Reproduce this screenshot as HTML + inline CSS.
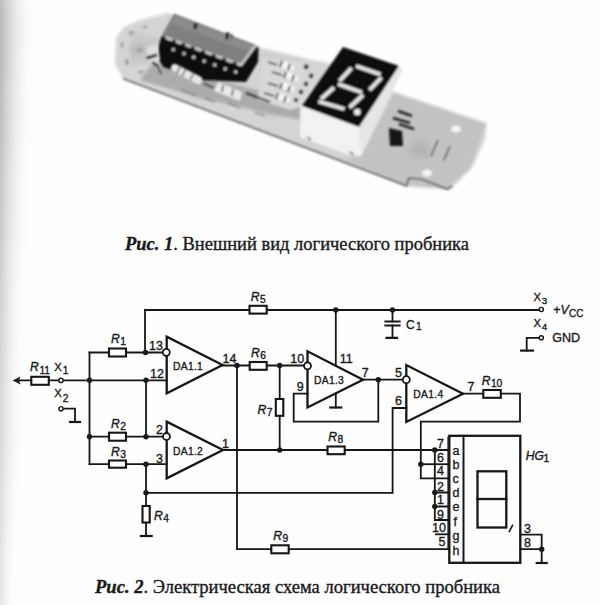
<!DOCTYPE html>
<html><head><meta charset="utf-8">
<style>
html,body{margin:0;padding:0;background:#fefefe;}
body{width:600px;height:605px;overflow:hidden;position:relative;}
svg{position:absolute;left:0;top:0;display:block;}
.cap{font-family:"Liberation Serif",serif;fill:#1a1a1a;stroke:#1a1a1a;stroke-width:0.35px;}
.lb{font-family:"Liberation Sans",sans-serif;fill:#1a1a1a;}
</style></head>
<body>
<svg width="600" height="605" viewBox="0 0 600 605">
<defs>
  <linearGradient id="sg" x1="0" x2="1" y1="0" y2="0"><stop offset="0" stop-color="#000" stop-opacity="1.0000"/><stop offset="0.125" stop-color="#000" stop-opacity="0.7656"/><stop offset="0.25" stop-color="#000" stop-opacity="0.5625"/><stop offset="0.375" stop-color="#000" stop-opacity="0.3906"/><stop offset="0.5" stop-color="#000" stop-opacity="0.2500"/><stop offset="0.625" stop-color="#000" stop-opacity="0.1406"/><stop offset="0.75" stop-color="#000" stop-opacity="0.0625"/><stop offset="0.875" stop-color="#000" stop-opacity="0.0156"/><stop offset="1" stop-color="#000" stop-opacity="0.0000"/></linearGradient>
  <filter id="vb" x="0" y="-10%" width="100%" height="120%"><feGaussianBlur stdDeviation="0 25"/></filter>
</defs>
<g filter="url(#vb)">
  <rect x="0" y="-30" width="36" height="100" fill="url(#sg)" opacity="0.282"/>
  <rect x="0" y="70" width="34" height="80" fill="url(#sg)" opacity="0.259"/>
  <rect x="0" y="150" width="31" height="100" fill="url(#sg)" opacity="0.220"/>
  <rect x="0" y="250" width="27" height="100" fill="url(#sg)" opacity="0.180"/>
  <rect x="0" y="350" width="25" height="120" fill="url(#sg)" opacity="0.157"/>
  <rect x="0" y="470" width="21" height="70" fill="url(#sg)" opacity="0.129"/>
  <rect x="0" y="540" width="17" height="95" fill="url(#sg)" opacity="0.106"/>
</g>


<!-- PHOTO -->
<g id="photo">
<defs>
  <filter id="bl1" x="-10%" y="-10%" width="120%" height="120%"><feGaussianBlur stdDeviation="0.8"/></filter>
  <filter id="bl2" x="-20%" y="-20%" width="140%" height="140%"><feGaussianBlur stdDeviation="1.4"/></filter>
  <filter id="bl3" x="-30%" y="-30%" width="160%" height="160%"><feGaussianBlur stdDeviation="3.5"/></filter>
</defs>
<g id="ph">
  <!-- board -->
  <g filter="url(#bl2)">
    <path d="M116,38 L124,27 L140,20 L168,13 L258,47 L300,57 L342,66 L392,91 L487,123 L485,140 L472,168 L450,190 L407,186.5 L180,100 L123,78 L115,64 Z" fill="#d4d4d4"/>
    <path d="M152,64 L250,88 L300,100 L300,120 L200,98 L140,80 Z" fill="#acacac"/>
    <path d="M130,30 L160,38 L158,62 L130,66 Z" fill="#cacaca"/>
    <path d="M258,50 L300,58 L300,106 L262,92 Z" fill="#d0d0d0"/>
    <path d="M345,160 L362,152 L394,93 L486,124 L470,168 L447,188 L405,185 Z" fill="#c2c2c2"/>
  </g>
  <g filter="url(#bl1)" fill="#8a8a8a" opacity="0.7">
    <ellipse cx="131" cy="33" rx="2.5" ry="2"/>
    <ellipse cx="140" cy="50" rx="3" ry="2"/>
    <ellipse cx="127" cy="62" rx="2" ry="3"/>
    <ellipse cx="141" cy="72" rx="3" ry="1.5"/>
    <ellipse cx="145" cy="27" rx="2.5" ry="1.5"/>
    <ellipse cx="122" cy="45" rx="1.5" ry="3"/>
    <path d="M182,90 l14,5 M205,98 l10,4 M228,103 l12,5 M255,112 l10,4" stroke="#777" stroke-width="1.5"/>
    <path d="M262,88 l8,-3 M266,98 l6,-2" stroke="#555" stroke-width="1.8"/>
  </g>
  <g filter="url(#bl3)" fill="#a8a8a8" opacity="0.6">
    <ellipse cx="138" cy="50" rx="8" ry="6"/>
    <ellipse cx="205" cy="92" rx="14" ry="5"/>
    <ellipse cx="270" cy="110" rx="14" ry="5"/>
    <ellipse cx="420" cy="150" rx="10" ry="8"/>
  </g>
  <!-- board front edge line -->
  <path d="M123,78.5 L180,100 L406,185.5" stroke="#5e5e5e" stroke-width="1.7" fill="none" filter="url(#bl1)"/>
  <path d="M406,187 L409,178 L421,179 L447,189 L452,186" stroke="#666" stroke-width="1.6" fill="none" filter="url(#bl1)"/>
  <!-- IC -->
  <g filter="url(#bl1)">
    <path d="M161.5,36 L241,65 L256,45 L258.5,48 L258,62 L246,82 L200,80 L163,67 L156,55 Z" fill="#0e0e0e"/>
    <path d="M174,13.5 L256,45 L241,65 L161.5,36 Z" fill="#808080"/>
    <path d="M176,16 L254,46 L250,52 L170,23 Z" fill="#8c8c8c"/>
    <path d="M161.5,36 L241,65 L256,45" stroke="#d0d0d0" stroke-width="2.4" fill="none" stroke-linejoin="round"/>
    <g fill="#161616"><circle cx="163.3" cy="37.9" r="2.3"/><circle cx="173.8" cy="41.7" r="2.3"/><circle cx="183.2" cy="45.1" r="2.3"/><circle cx="192.5" cy="48.5" r="2.3"/><circle cx="203.0" cy="52.3" r="2.3"/><circle cx="213.5" cy="56.2" r="2.3"/><circle cx="224.0" cy="60.0" r="2.3"/><circle cx="234.5" cy="63.8" r="2.3"/></g>
    <g fill="#d8d8d8">
      <circle cx="173.3" cy="49.5" r="1.5"/><circle cx="184" cy="53.5" r="1.5"/><circle cx="193.7" cy="57.2" r="1.6"/>
      <circle cx="204.2" cy="61.1" r="1.6"/><circle cx="214.7" cy="64.9" r="1.6"/><circle cx="225.2" cy="68.8" r="1.6"/><circle cx="235.7" cy="71.9" r="1.6"/>
    </g>
    <path d="M194,23 l4,0.5 l-1.5,6 l-3.5,-0.5 z" fill="#2a2a2a"/>
    <path d="M226,32 l4,1 l-2,7 l-3,-1 z M231,34 l2,0.5 l-1.5,6 z" fill="#2a2a2a"/>
  </g>
  <!-- parts near IC -->
  <g filter="url(#bl1)">
    <g transform="translate(186.5,74) rotate(27)">
      <rect x="-17" y="-4" width="34" height="8" rx="3.5" fill="#e6e6e6"/>
      <path d="M-9,-4 v8 M-3,-4 v8 M6,-4 v8" stroke="#7a7a7a" stroke-width="1.8"/>
    </g>
    <path d="M203,83 L214,88" stroke="#555" stroke-width="2"/>
    <path d="M146,47 L158,44 L160,60 L150,64 Z" fill="#dedede"/>
    <path d="M147,58 L157,55" stroke="#1e1e1e" stroke-width="3"/>
    <path d="M152,62 L158,66" stroke="#333" stroke-width="2.5"/>
    <path d="M157,64 L161,74" stroke="#555" stroke-width="2"/>
  </g>
  <!-- resistor cluster between IC and display -->
  <g filter="url(#bl1)">
    <path d="M262,58 L300,62 L314,76 L312,104 L290,110 L258,100 Z" fill="#d8d8d8"/>
    <g fill="#f4f4f4">
      <ellipse cx="287" cy="66" rx="8" ry="3.6" transform="rotate(22 287 66)"/>
      <ellipse cx="291" cy="76.5" rx="8" ry="3.6" transform="rotate(22 291 76.5)"/>
      <ellipse cx="287" cy="87" rx="8" ry="3.6" transform="rotate(22 287 87)"/>
      <ellipse cx="283" cy="97.5" rx="8" ry="3.6" transform="rotate(22 283 97.5)"/>
    </g>
    <path d="M282,61 l-2,6 M290,64 l-2,6 M286,72 l-2,6 M294,75 l-2,6 M282,83 l-2,6 M290,86 l-2,6 M278,93 l-2,6 M286,96 l-2,6" stroke="#1e1e1e" stroke-width="1.8"/>
    <path d="M268,62 l9,3 M272,72 l10,3 M268,83 l10,3 M264,93 l10,3" stroke="#333" stroke-width="1.6"/>
    <circle cx="306" cy="67" r="2.4" fill="#3a3a3a"/><circle cx="311" cy="76" r="2.4" fill="#3a3a3a"/>
    <circle cx="306" cy="84" r="2.4" fill="#3a3a3a"/><circle cx="301" cy="92" r="2.4" fill="#3a3a3a"/><circle cx="296" cy="100" r="2.2" fill="#3a3a3a"/>
    <path d="M218,82 L242,92 L240,101 L214,91 Z" fill="#e8e8e8"/>
    <path d="M223,85 l-1,7 M233,89 l-1,7" stroke="#444" stroke-width="1.6"/>
    <path d="M246,93 L270,102" stroke="#333" stroke-width="2.2"/>
  </g>
  <!-- 7-seg display -->
  <g filter="url(#bl1)">
    <path d="M301,106 L359,127 L399,66 L402.5,70 L361,156 L352,156 L300,137 Z" fill="#f2f2f2"/>
    <path d="M359,127 L399,66 L402.5,70 L361,156 Z" fill="#e6e6e6"/>
    <path d="M343,47 L399,66 L359,127 L302,106 Z" fill="#0e0e0e"/>
    <g stroke="#e8e8e8" stroke-width="3.9" stroke-linecap="butt" fill="none">
      <path d="M356,66 L380.5,74.5"/>
      <path d="M351.5,68 L339.5,81"/>
      <path d="M381.5,77.5 L369.5,90"/>
      <path d="M338,84 L362,92.5"/>
      <path d="M334,87.5 L321,99"/>
      <path d="M363,95 L349.5,107.5"/>
      <path d="M318.5,101.5 L344.5,109"/>
    </g>
    <circle cx="357.3" cy="112" r="3.3" fill="#ececec"/>
    <path d="M306,136 l5,2 l-1,3 z M348,151 l6,2 l-1,3z" fill="#777"/>
  </g>
  <!-- right end parts -->
  <g filter="url(#bl1)">
    <path d="M389,128 L402,131 L403,146 L390,146 Z" fill="#161616"/>
    <path d="M398,111 L412,116 M393,118 L410,123 M399,124 L414,129" stroke="#222" stroke-width="2.5"/>
    <path d="M438,140 L431,156 M450,146 L444,160" stroke="#666" stroke-width="1.5"/>
    <ellipse cx="456" cy="129" rx="5" ry="3.5" fill="#f6f6f6"/>
    <ellipse cx="427" cy="173" rx="5" ry="3.5" fill="#f4f4f4"/>
  </g>
</g>
</g>

<!-- Captions -->
<text class="cap" x="125" y="249.6" font-size="17.8" textLength="344" lengthAdjust="spacingAndGlyphs"><tspan font-weight="bold" font-style="italic">Рис. 1</tspan>. Внешний вид логического пробника</text>
<text class="cap" x="95" y="593" font-size="17.8" textLength="405" lengthAdjust="spacingAndGlyphs"><tspan font-weight="bold" font-style="italic">Рис. 2</tspan>. Электрическая схема логического пробника</text>

<!-- CIRCUIT -->
<g id="circ" fill="none" stroke="#161616" stroke-width="1.8" stroke-linecap="square">
<!-- wires -->
<path d="M145,310 H249.5 M266.7,310 H539"/>
<path d="M145,310 V352.5"/>
<path d="M89.5,352.5 H109 M126,352.5 H162.8"/>
<path d="M63.5,380.3 H166.7"/>
<path d="M89.5,352.5 V464.2"/>
<path d="M146,380.3 V436.7"/>
<path d="M89.5,436.7 H109 M126,436.7 H163"/>
<path d="M89.5,464.2 H109 M126,464.2 H166.7"/>
<path d="M146,464.2 V506 M146,522.5 V536"/>
<path d="M141,536 H151.7" stroke-width="2.2"/>
<path d="M146,492.8 H392.6 V408 H406.3"/>
<path d="M222.5,365.5 H249.7 M266.7,365.5 H303.8"/>
<path d="M237,365.5 V549.2 H271.3 M288.7,549.2 H448"/>
<path d="M223,450 H327.5 M344.7,450 H448"/>
<path d="M279.7,365.5 V399 M279.7,415.8 V450"/>
<path d="M307.5,393.7 H293.7 V421.7 H378.3 V379.7"/>
<path d="M363,379.7 H402.6"/>
<path d="M335.8,310 V365.8"/>
<path d="M335.8,393.2 V407.5"/>
<path d="M330.3,407.5 H341.3" stroke-width="2.2"/>
<path d="M392.5,310 V321.5 M392.5,325.5 V337.8"/>
<path d="M385.5,321.5 H399.5 M385.5,325.5 H399.5 M386.5,337.8 H397" stroke-width="2.2"/>
<path d="M539,337.8 H526.7 V350.6"/>
<path d="M521.2,350.6 H533" stroke-width="2.2"/>
<path d="M463,393.7 H483.3 M500.8,393.7 H520 V421.7 H420.8 V478.3 H448"/>
<path d="M420.8,464.2 H448"/>
<path d="M434.8,450 V520 M434.8,492.5 H448 M434.8,506.5 H448 M434.8,520 H448"/>
<path d="M436,534.3 H448"/>
<path d="M448,437 V549" stroke-width="1.2"/>
<path d="M520.3,534.7 H541.7 V563 M520.3,549.2 H541.7"/>
<path d="M536.7,563 H546.7" stroke-width="2.2"/>
<path d="M63.3,408.7 H75 V422"/>
<path d="M70,422 H80" stroke-width="2.2"/>
<path d="M19.6,380.4 H31.3 M48.8,380.4 H58.7"/>
<!-- HG1 body -->
<rect x="449.3" y="435.8" width="71" height="127" stroke-width="2.3"/>
<path d="M463.5,435.8 V562.8" stroke-width="2"/>
<rect x="477.5" y="471.3" width="28.8" height="56.2" stroke-width="2.3"/>
<path d="M477.5,499 H506.3" stroke-width="2.3"/>
<path d="M509.2,531.7 L512.5,525.3" stroke-width="1.6" stroke-linecap="round"/>
<!-- resistors -->
<g stroke-width="2.1" fill="#fff">
<rect x="109" y="348.5" width="17" height="8"/>
<rect x="109" y="432.7" width="17" height="8"/>
<rect x="109" y="460.5" width="17" height="7.2"/>
<rect x="142.5" y="506" width="7.2" height="16.5"/>
<rect x="249.5" y="305.8" width="17.2" height="7.8"/>
<rect x="249.7" y="362" width="17" height="7.8"/>
<rect x="275.8" y="399" width="7.5" height="16.8"/>
<rect x="327.5" y="446.5" width="17.2" height="7.7"/>
<rect x="271.3" y="545.3" width="17.4" height="8"/>
<rect x="483.3" y="390" width="17.5" height="7.8"/>
<rect x="31.3" y="376.8" width="17.5" height="8"/>
</g>
<!-- opamps -->
<g stroke-width="2.3" stroke-linejoin="miter">
<path d="M166.7,336.7 L166.7,393.3 L222.5,365 Z"/>
<path d="M166.7,421.7 L166.7,478.3 L223,450 Z"/>
<path d="M307.5,351.3 L307.5,407.5 L363,379.7 Z"/>
<path d="M406.3,365 L406.3,422 L463,393.7 Z"/>
</g>
<!-- bubbles & terminals -->
<g stroke-width="1.8" fill="#fff">
<circle cx="166.3" cy="352.3" r="3.5"/>
<circle cx="166.5" cy="436.5" r="3.5"/>
<circle cx="307.5" cy="365.8" r="3.5"/>
<circle cx="406.3" cy="379.7" r="3.5"/>
</g>
<g stroke-width="1.4" fill="#fff">
<circle cx="61" cy="380.4" r="2.1"/>
<circle cx="61" cy="408.7" r="2.1"/>
<circle cx="541.3" cy="309.5" r="2.1"/>
<circle cx="541.3" cy="337.8" r="2.1"/>
</g>
<!-- dots -->
<g fill="#1a1a1a" stroke="none">
<circle cx="145.5" cy="352.5" r="2.7"/>
<circle cx="89.5" cy="380.3" r="2.7"/>
<circle cx="146" cy="380.3" r="2.7"/>
<circle cx="89.5" cy="436.7" r="2.7"/>
<circle cx="146" cy="436.7" r="2.7"/>
<circle cx="146" cy="464.2" r="2.7"/>
<circle cx="146" cy="492.8" r="2.7"/>
<circle cx="237" cy="365.5" r="2.7"/>
<circle cx="279.7" cy="365.5" r="2.7"/>
<circle cx="279.7" cy="450" r="2.7"/>
<circle cx="335.8" cy="310" r="2.7"/>
<circle cx="392.5" cy="310" r="2.7"/>
<circle cx="378.3" cy="379.7" r="2.7"/>
<circle cx="420.8" cy="464.2" r="2.7"/>
<circle cx="434.8" cy="450" r="2.7"/>
<circle cx="434.8" cy="492.5" r="2.7"/>
<circle cx="434.8" cy="506.5" r="2.7"/>
<circle cx="541.7" cy="549.2" r="2.7"/>
<path d="M12.6,380.4 L20.5,376.4 L19,380.4 L20.5,384.4 Z"/>
</g>
</g>
<g class="lb" stroke="#1a1a1a" stroke-width="0.35">
<!-- R labels: italic R + subscript -->
<g font-size="12.2" font-style="italic">
<text x="30" y="371.3">R</text>
<text x="111" y="343">R</text>
<text x="111" y="427.5">R</text>
<text x="111" y="455.5">R</text>
<text x="250.8" y="300.5">R</text>
<text x="251" y="356.5">R</text>
<text x="328.3" y="441">R</text>
<text x="273.3" y="540">R</text>
<text x="481.7" y="384.5">R</text>
<text x="257.5" y="414">R</text>
<text x="154" y="520">R</text>
<text x="525.8" y="459.8">HG</text>
</g>
<g font-size="10.3">
<text x="39.4" y="373.7">11</text>
<text x="120.2" y="345.4">1</text>
<text x="120.2" y="429.9">2</text>
<text x="120.2" y="457.9">3</text>
<text x="260" y="302.9">5</text>
<text x="260.2" y="358.9">6</text>
<text x="337.5" y="443.4">8</text>
<text x="282.5" y="542.4">9</text>
<text x="490.9" y="386.9">10</text>
<text x="266.7" y="416.4">7</text>
<text x="163.2" y="522.4">4</text>
<text x="543.5" y="462.2">1</text>
<text x="62.8" y="373.7">1</text>
<text x="62.8" y="401.8">2</text>
<text x="416" y="330">1</text>
</g>
<g font-size="11.2">
<text x="54.2" y="371.3">X</text>
<text x="54.2" y="397">X</text>
</g>
<g font-size="12">
<text x="406" y="328.5">C</text>
</g>
<!-- pin numbers -->
<g font-size="12.5">
<text x="149" y="350">13</text>
<text x="150" y="377.5">12</text>
<text x="156" y="434">2</text>
<text x="156" y="462.5">3</text>
<text x="222.5" y="363.3">14</text>
<text x="222" y="447.5">1</text>
<text x="290.3" y="363.3">10</text>
<text x="339.7" y="363.3">11</text>
<text x="296.7" y="390.8">9</text>
<text x="361.7" y="376.7">7</text>
<text x="395" y="376.7">5</text>
<text x="395" y="405.3">6</text>
<text x="467.5" y="390.8">7</text>
<text x="437" y="447.5">7</text>
<text x="437" y="461.5">6</text>
<text x="437" y="475">4</text>
<text x="437" y="490.5">2</text>
<text x="437" y="504">1</text>
<text x="437" y="518.5">9</text>
<text x="432" y="532.3">10</text>
<text x="438.4" y="546.2">5</text>
<text x="524" y="532.5">3</text>
<text x="524" y="546.7">8</text>
</g>
<g font-size="12.5">
<text x="452.5" y="454.5">a</text>
<text x="452.5" y="469">b</text>
<text x="452.5" y="483">c</text>
<text x="452.5" y="497">d</text>
<text x="452.5" y="511">e</text>
<text x="453.5" y="525.5">f</text>
<text x="452.5" y="540">g</text>
<text x="452.5" y="555">h</text>
</g>
<g font-size="10.3" letter-spacing="0.3">
<text x="173" y="370.3">DA1.1</text>
<text x="173" y="455">DA1.2</text>
<text x="314" y="384">DA1.3</text>
<text x="413.3" y="398">DA1.4</text>
</g>
<g font-size="11.2">
<text x="533.6" y="300.5">X</text>
<text x="533.6" y="326.8">X</text>
</g>
<g font-size="9.8">
<text x="541.8" y="303.8">3</text>
<text x="541.8" y="330.3">4</text>
</g>
<text x="553.3" y="314" font-size="12.5">+<tspan font-style="italic">V</tspan><tspan font-size="10" dy="2.5">CC</tspan></text>
<text x="552.2" y="342.4" font-size="12.6">GND</text>
</g>
</svg>
</body></html>
